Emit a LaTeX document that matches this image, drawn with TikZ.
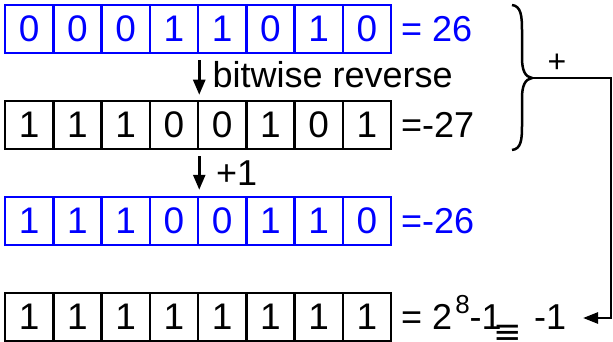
\documentclass[tikz,border=0pt]{standalone}
\usepackage{fontspec}
\setmainfont{Liberation Sans}
\newfontfamily\symfont{DejaVu Sans}
\usetikzlibrary{arrows.meta,calc}

\begin{document}
\begin{tikzpicture}[x=1pt,y=-1pt,
  cell/.style={draw, line width=2.5pt, minimum width=48.25pt, minimum height=48pt,
    inner sep=0pt, font=\fontsize{37}{37}\selectfont},
  lbl/.style={anchor=base west, inner sep=0pt, font=\fontsize{36}{36}\selectfont},
  arr/.style={line width=2.5pt, -{Triangle[length=15pt,width=12pt]}},
  thick line/.style={line width=2.5pt},
]
\useasboundingbox (0,0) rectangle (613,342);

% four rows of eight bit cells
\foreach \r/\bits/\col in {1/{0,0,0,1,1,0,1,0}/blue, 2/{1,1,1,0,0,1,0,1}/black,
                          3/{1,1,1,0,0,1,1,0}/blue, 4/{1,1,1,1,1,1,1,1}/black} {
  \foreach \b [count=\i] in \bits {
    \node[cell, draw=\col, text=\col] (r\r-\i) at ({5+48.25*(\i-0.5)}, {29+96*(\r-1)}) {\b};
  }
}

% values of the rows
\node[lbl, text=blue] (v1) at (401,41.5) {= 26};
\node[lbl] (v2) at (401,137.5) {=-27};
\node[lbl, text=blue] (v3) at (401,233.5) {=-26};
\node[lbl] (v4) at (401,329.5) {= 2\hspace{3pt}\raisebox{16.5pt}{\fontsize{26}{26}\selectfont 8}-1\hspace{-8pt}\raisebox{-14pt}{\symfont\fontsize{34}{34}\selectfont ≡}\hspace{12pt}-1};

% operations between rows
\draw[arr] ($(r1-4.south east)+(0,6)$) -- ($(r2-4.north east)+(0,-5)$);
\node[lbl] (op1) at (212.5,88) {bitwise reverse};
\draw[arr] ($(r2-4.south east)+(0,6)$) -- ($(r3-4.north east)+(0,-6)$);
\node[lbl] (op2) at (216,185) {+1};

% brace summing the first two rows
\coordinate (bt) at (532,78);
\draw[thick line] (512,5) .. controls (521,6) and (522,16) .. (522,30)
  -- (522,58) .. controls (522,70) and (525,77) .. (bt)
  .. controls (525,79) and (522,86) .. (522,98)
  -- (522,126) .. controls (522,140) and (521,149) .. (512,150);
\node[inner sep=0pt, font=\fontsize{32}{32}\selectfont] (plus) at (557,63) {+};
\coordinate (corner) at (611,78);
\coordinate (res) at (583,318);
\draw[thick line, -{Triangle[length=15pt,width=11pt]}] (bt) -- (corner) |- (res);
\end{tikzpicture}
\end{document}
